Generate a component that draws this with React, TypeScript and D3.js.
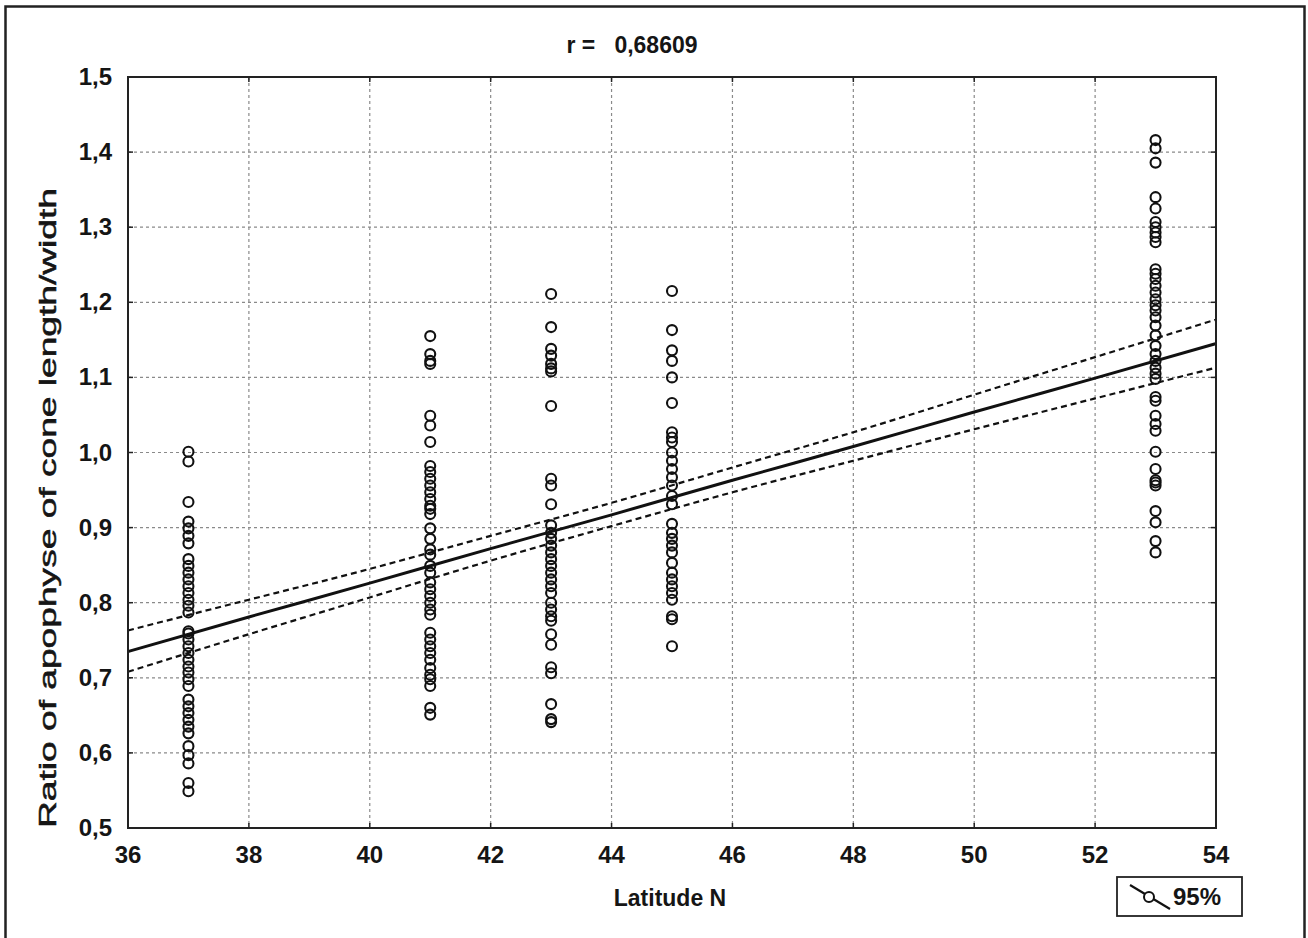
import React from 'react';
import * as d3 from 'd3';

// sampling sites (latitude N) and the measured ratios at each
const latitudes = [37, 41, 43, 45, 53];

const ratios37 = [1.001, 0.988, 0.934, 0.908, 0.899, 0.889, 0.879, 0.858, 0.849, 0.840, 0.831, 0.822,
  0.813, 0.804, 0.796, 0.787, 0.762, 0.759, 0.751, 0.742, 0.733, 0.724, 0.715, 0.707, 0.698, 0.689,
  0.671, 0.662, 0.653, 0.644, 0.635, 0.626, 0.609, 0.597, 0.586, 0.560, 0.549];
const ratios41 = [1.155, 1.131, 1.122, 1.118, 1.049, 1.036, 1.014, 0.982, 0.974, 0.965, 0.956, 0.947,
  0.938, 0.929, 0.925, 0.918, 0.899, 0.885, 0.871, 0.864, 0.849, 0.840, 0.827, 0.818, 0.809, 0.800,
  0.791, 0.784, 0.760, 0.751, 0.742, 0.733, 0.724, 0.713, 0.704, 0.698, 0.689, 0.660, 0.651];
const ratios43 = [1.211, 1.167, 1.138, 1.129, 1.118, 1.112, 1.108, 1.062, 0.965, 0.956, 0.931, 0.903,
  0.893, 0.885, 0.876, 0.867, 0.858, 0.849, 0.840, 0.831, 0.822, 0.813, 0.800, 0.791, 0.782, 0.776,
  0.758, 0.744, 0.714, 0.706, 0.665, 0.645, 0.641];
const ratios45 = [1.215, 1.163, 1.136, 1.122, 1.100, 1.066, 1.027, 1.020, 1.014, 1.000, 0.989, 0.978,
  0.967, 0.956, 0.942, 0.931, 0.905, 0.893, 0.885, 0.876, 0.867, 0.853, 0.840, 0.831, 0.822, 0.813,
  0.804, 0.782, 0.778, 0.742];
const ratios53 = [1.416, 1.405, 1.386, 1.340, 1.325, 1.307, 1.300, 1.293, 1.287, 1.280, 1.244, 1.238,
  1.231, 1.222, 1.213, 1.204, 1.196, 1.189, 1.180, 1.169, 1.156, 1.142, 1.131, 1.122, 1.113, 1.105,
  1.098, 1.074, 1.069, 1.049, 1.038, 1.029, 1.001, 0.978, 0.963, 0.960, 0.956, 0.922, 0.907, 0.882, 0.867];

const ratiosBySite = [ratios37, ratios41, ratios43, ratios45, ratios53];

// fitted line and 95% band, read at the x grid
const fitX = [36, 38, 40, 42, 44, 46, 48, 50, 52, 54];
const fitY = [0.735, 0.781, 0.826, 0.872, 0.917, 0.963, 1.008, 1.054, 1.099, 1.145];
const upperY = [0.763, 0.804, 0.845, 0.889, 0.933, 0.980, 1.027, 1.077, 1.127, 1.177];
const lowerY = [0.708, 0.758, 0.807, 0.856, 0.902, 0.947, 0.989, 1.031, 1.072, 1.113];

const xTicks = [36, 38, 40, 42, 44, 46, 48, 50, 52, 54];
const yTicks = [0.5, 0.6, 0.7, 0.8, 0.9, 1.0, 1.1, 1.2, 1.3, 1.4, 1.5];

const rText = 'r =   0,68609';
const xTitle = 'Latitude N';
const yTitle = 'Ratio of apophyse of cone length/width';
const legendText = '95%';

const font = '"Liberation Sans", Arial, sans-serif';

export default function App() {
  const width = 1308;
  const height = 938;
  const left = 128, right = 1216, top = 77, bottom = 828;

  const x = d3.scaleLinear().domain([36, 54]).range([left, right]);
  const y = d3.scaleLinear().domain([0.5, 1.5]).range([bottom, top]);

  const pts = latitudes.flatMap((lat, i) => ratiosBySite[i].map(v => ({ lat, v })));

  const lineGen = (ys: number[]) =>
    d3.line<number>()
      .x((_, i) => x(fitX[i]))
      .y(d => y(d))
      .curve(d3.curveNatural)(ys) as string;

  const fmt = (v: number) => v.toFixed(1).replace('.', ',');
  const txt = { fontFamily: font, fill: '#151515', fontWeight: 'bold' as const };

  return (
    <svg width={width} height={height} style={{ position: 'absolute', left: 0, top: 0, background: '#fff' }}>
      <rect x={5.5} y={6.5} width={1299} height={940} fill="#fff" stroke="#222" strokeWidth={2.5} />

      <text x={632} y={53} textAnchor="middle" fontSize={23} {...txt} style={{ whiteSpace: 'pre' }}>{rText}</text>

      {/* grid */}
      <g stroke="#8a8a8a" strokeWidth={1.2} strokeDasharray="3,3">
        {xTicks.slice(1, -1).map(t => (
          <line key={'gx' + t} x1={x(t)} x2={x(t)} y1={top} y2={bottom} />
        ))}
        {yTicks.slice(1, -1).map(t => (
          <line key={'gy' + t} x1={left} x2={right} y1={y(t)} y2={y(t)} />
        ))}
      </g>

      {/* inner ticks */}
      <g stroke="#222" strokeWidth={1.5}>
        {xTicks.map(t => (
          <g key={'tx' + t}>
            <line x1={x(t)} x2={x(t)} y1={bottom} y2={bottom - 5} />
            <line x1={x(t)} x2={x(t)} y1={top} y2={top + 5} />
          </g>
        ))}
        {yTicks.map(t => (
          <g key={'ty' + t}>
            <line x1={left} x2={left + 5} y1={y(t)} y2={y(t)} />
            <line x1={right} x2={right - 5} y1={y(t)} y2={y(t)} />
          </g>
        ))}
      </g>

      {/* points */}
      <g fill="none" stroke="#111" strokeWidth={2.1}>
        {pts.map((p, i) => (
          <circle key={i} cx={x(p.lat)} cy={y(p.v)} r={5} />
        ))}
      </g>

      {/* regression and band */}
      <path d={lineGen(fitY)} fill="none" stroke="#111" strokeWidth={3} />
      <path d={lineGen(upperY)} fill="none" stroke="#111" strokeWidth={2.2} strokeDasharray="6,4" />
      <path d={lineGen(lowerY)} fill="none" stroke="#111" strokeWidth={2.2} strokeDasharray="6,4" />

      <rect x={left} y={top} width={right - left} height={bottom - top} fill="none" stroke="#222" strokeWidth={2} />

      {/* axis labels */}
      {yTicks.map(t => (
        <text key={'ly' + t} x={left - 16} y={y(t) + 8} textAnchor="end" fontSize={24} {...txt}>{fmt(t)}</text>
      ))}
      {xTicks.map(t => (
        <text key={'lx' + t} x={x(t)} y={863} textAnchor="middle" fontSize={24} {...txt}>{t}</text>
      ))}

      <text x={670} y={906} textAnchor="middle" fontSize={23} {...txt}>{xTitle}</text>
      <text transform={`translate(56, ${bottom}) rotate(-90)`} textAnchor="start" fontSize={24}
        textLength={640} lengthAdjust="spacingAndGlyphs"
        fontFamily={font} fill="#151515" stroke="#151515" strokeWidth={0.5}>
        {yTitle}
      </text>

      {/* legend */}
      <rect x={1117} y={877} width={125} height={39} fill="none" stroke="#222" strokeWidth={1.8} />
      <line x1={1130} y1={885} x2={1170} y2={909} stroke="#111" strokeWidth={2.2} />
      <circle cx={1149} cy={897} r={5} fill="#fff" stroke="#111" strokeWidth={2} />
      <text x={1173} y={905} fontSize={24} {...txt}>{legendText}</text>
    </svg>
  );
}
